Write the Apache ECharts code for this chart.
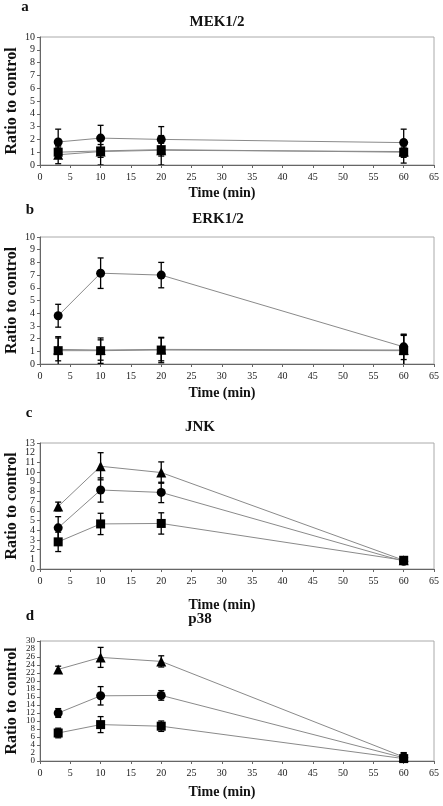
<!DOCTYPE html>
<html><head><meta charset="utf-8">
<script src="https://cdn.jsdelivr.net/npm/echarts@6/dist/echarts.min.js"></script>
<style>html,body{margin:0;padding:0;background:#fff}#c{width:443px;height:806px}</style>
</head><body><div id="c"></div>
<script>
const times = [3, 10, 20, 60];
const panelTitles = ['MEK1/2', 'ERK1/2', 'JNK', 'p38'];
const panelLetters = ['a', 'b', 'c', 'd'];
const yMax = [10, 10, 13, 30];
const yStep = [1, 1, 1, 2];

// Panel a: MEK1/2
const mekCircle = [1.8, 2.1, 2.0, 1.75];
const mekCircleErr = [1.0, 1.0, 1.0, 1.05];
const mekSquare = [1.0, 1.1, 1.2, 1.0];
const mekSquareErr = [0.4, 0.5, 0.5, 0.4];
const mekTri = [0.8, 1.05, 1.15, 1.05];
const mekTriErr = [0.7, 1.05, 1.15, 0.9];

// Panel b: ERK1/2
const erkCircle = [3.8, 7.15, 7.0, 1.35];
const erkCircleErr = [0.9, 1.2, 1.0, 1.0];
const erkSquare = [1.05, 1.05, 1.1, 1.05];
const erkSquareErr = [1.1, 1.0, 1.0, 1.2];
const erkTri = [1.15, 1.1, 1.15, 1.1];
const erkTriErr = [0.9, 0.8, 0.9, 1.2];

// Panel c: JNK
const jnkTri = [6.45, 10.6, 9.95, 0.9];
const jnkTriErr = [0.45, 1.4, 1.1, 0.3];
const jnkCircle = [4.25, 8.15, 7.9, 0.8];
const jnkCircleErr = [1.15, 1.25, 1.05, 0.3];
const jnkSquare = [2.8, 4.65, 4.7, 0.9];
const jnkSquareErr = [1.0, 1.1, 1.1, 0.3];

// Panel d: p38
const p38Tri = [22.9, 25.9, 24.9, 1.0];
const p38TriErr = [0.8, 2.5, 1.4, 1.0];
const p38Circle = [12.0, 16.3, 16.4, 0.8];
const p38CircleErr = [1.1, 2.3, 1.2, 1.0];
const p38Square = [7.0, 9.1, 8.7, 0.6];
const p38SquareErr = [1.2, 2.0, 1.3, 1.5];

const panels = [
  [[mekTri, mekTriErr, 'triangle'], [mekCircle, mekCircleErr, 'circle'], [mekSquare, mekSquareErr, 'rect']],
  [[erkTri, erkTriErr, 'triangle'], [erkCircle, erkCircleErr, 'circle'], [erkSquare, erkSquareErr, 'rect']],
  [[jnkTri, jnkTriErr, 'triangle'], [jnkCircle, jnkCircleErr, 'circle'], [jnkSquare, jnkSquareErr, 'rect']],
  [[p38Tri, p38TriErr, 'triangle'], [p38Circle, p38CircleErr, 'circle'], [p38Square, p38SquareErr, 'rect']]
];

const gridTops = [37, 237, 443, 641];
const gridHeights = [128, 127, 126, 120];
const titleY = [22, 219, 427, 619];
const letterPos = [[25, 7], [30, 210], [29, 413], [30, 616]];
const xNameY = [193, 393, 605, 792];
const titleX = [217, 218, 200, 200];
const yLabelFont = [10, 10, 10, 9];

const FONT = '"Liberation Serif", "DejaVu Serif", serif';

function renderErr(params, api) {
  const x = api.value(0), lo = api.value(1), hi = api.value(2);
  const p1 = api.coord([x, hi]), p2 = api.coord([x, lo]);
  const w = 3;
  const st = { stroke: '#000', lineWidth: 1.3 };
  return { type: 'group', children: [
    { type: 'line', shape: { x1: p1[0], y1: p1[1], x2: p2[0], y2: p2[1] }, style: st },
    { type: 'line', shape: { x1: p1[0] - w, y1: p1[1], x2: p1[0] + w, y2: p1[1] }, style: st },
    { type: 'line', shape: { x1: p2[0] - w, y1: p2[1], x2: p2[0] + w, y2: p2[1] }, style: st }
  ]};
}

const grids = [], xAxes = [], yAxes = [], extraY = [], series = [], graphics = [];
panels.forEach((pan, k) => {
  grids.push({ left: 40, right: 9, top: gridTops[k], height: gridHeights[k], show: true,
    borderColor: '#aaa', borderWidth: 1, backgroundColor: 'transparent' });
  xAxes.push({ type: 'value', gridIndex: k, min: 0, max: 65, interval: 5,
    axisLine: { lineStyle: { color: '#666', width: 1 } },
    axisTick: { show: true, inside: false, length: 3, lineStyle: { color: '#666' } },
    axisLabel: { fontFamily: FONT, fontSize: 10, color: '#222', margin: 7,
      showMinLabel: true, showMaxLabel: true, hideOverlap: false },
    splitLine: { show: false } });
  yAxes.push({ type: 'value', gridIndex: k, position: 'left', min: 0, max: yMax[k], interval: yStep[k],
    axisLine: { show: true, lineStyle: { color: '#666', width: 1 } },
    axisTick: { show: true, length: 3, lineStyle: { color: '#666' } },
    axisLabel: { color: '#222', margin: 5, fontFamily: FONT, fontSize: yLabelFont[k],
      showMinLabel: true, showMaxLabel: true, hideOverlap: false },
    splitLine: { show: false } });
  if (k >= 2) {
    // companion label axis: supplies the labels next to min/max that ECharts drops when crowded
    extraY.push({ type: 'value', gridIndex: k, position: 'left', offset: 0, min: 0, max: yMax[k], interval: yStep[k],
      axisLine: { show: false }, axisTick: { show: false }, splitLine: { show: false },
      axisLabel: { color: '#222', margin: 5, fontFamily: FONT, fontSize: yLabelFont[k],
        showMinLabel: false, showMaxLabel: false, hideOverlap: false,
        formatter: v => (v === yStep[k] || v === yMax[k] - yStep[k]) ? String(v) : '' } });
  }
  pan.forEach(([vals, errs, sym]) => {
    series.push({ type: 'custom', xAxisIndex: k, yAxisIndex: k, renderItem: renderErr, clip: true, z: 2,
      encode: { x: 0, y: [1, 2] },
      data: times.map((t, i) => [t, vals[i] - errs[i], vals[i] + errs[i]]) });
    series.push({ type: 'line', xAxisIndex: k, yAxisIndex: k, z: 3,
      data: times.map((t, i) => [t, vals[i]]),
      symbol: sym, symbolSize: sym === 'rect' ? 9 : (sym === 'triangle' ? 10 : 9),
      showAllSymbol: true,
      lineStyle: { color: '#8a8a8a', width: 1 },
      itemStyle: { color: '#000', borderWidth: 0 },
      emphasis: { disabled: true }, animation: false });
  });
  const top = gridTops[k], h = gridHeights[k];
  graphics.push({ type: 'text', x: titleX[k], y: titleY[k],
    style: { text: panelTitles[k], font: 'bold 15px ' + FONT, fill: '#111', textAlign: 'center', textVerticalAlign: 'middle' } });
  graphics.push({ type: 'text', x: letterPos[k][0], y: letterPos[k][1],
    style: { text: panelLetters[k], font: 'bold 15px ' + FONT, fill: '#111', textAlign: 'center', textVerticalAlign: 'middle' } });
  graphics.push({ type: 'text', x: 222, y: xNameY[k],
    style: { text: 'Time (min)', font: 'bold 14px ' + FONT, fill: '#111', textAlign: 'center', textVerticalAlign: 'middle' } });
  graphics.push({ type: 'text', x: 12, y: top + h / 2, rotation: Math.PI / 2,
    style: { text: 'Ratio to control', font: 'bold 16px ' + FONT, fill: '#111', textAlign: 'center', textVerticalAlign: 'middle' } });
});

const chart = echarts.init(document.getElementById('c'), null, { renderer: 'canvas' });
chart.setOption({
  animation: false,
  backgroundColor: '#fff',
  grid: grids, xAxis: xAxes, yAxis: yAxes.concat(extraY), series: series, graphic: graphics
});
</script>
</body></html>
